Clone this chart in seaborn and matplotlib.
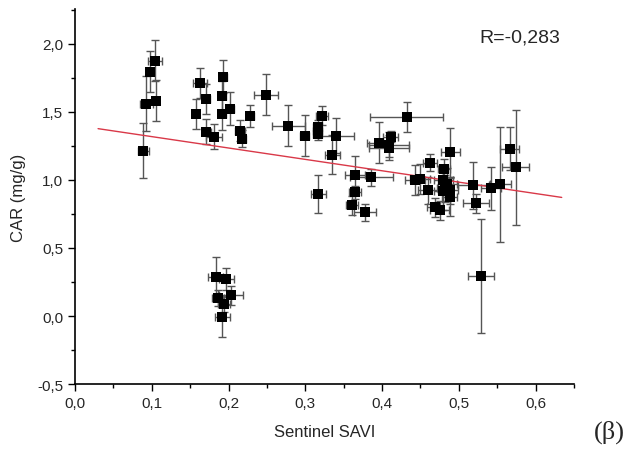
import numpy as np
import pandas as pd
import matplotlib
matplotlib.use("Agg")
import matplotlib.pyplot as plt
import seaborn as sns
from matplotlib.ticker import MultipleLocator, FuncFormatter

# ---- data ----
savi = [0.089, 0.093, 0.098, 0.104, 0.106, 0.157, 0.163, 0.171, 0.171, 0.181,
        0.193, 0.192, 0.192, 0.202, 0.215, 0.218, 0.228, 0.249, 0.278, 0.299,
        0.316, 0.316, 0.316, 0.322, 0.340, 0.335, 0.317, 0.365, 0.386, 0.365,
        0.361, 0.378, 0.432, 0.396, 0.411, 0.409, 0.409, 0.443, 0.450, 0.462,
        0.481, 0.489, 0.460, 0.480, 0.485, 0.482, 0.480, 0.489, 0.488, 0.469,
        0.475, 0.519, 0.522, 0.542, 0.554, 0.566, 0.574, 0.529, 0.183, 0.197,
        0.186, 0.203, 0.194, 0.192]
car = [1.215, 1.559, 1.794, 1.874, 1.581, 1.486, 1.713, 1.596, 1.354, 1.318,
       1.757, 1.618, 1.486, 1.523, 1.362, 1.303, 1.471, 1.625, 1.398, 1.325,
       1.391, 1.362, 1.340, 1.471, 1.325, 1.186, 0.893, 1.032, 1.018, 0.908,
       0.813, 0.761, 1.464, 1.274, 1.318, 1.259, 1.237, 0.996, 1.003, 1.127,
       1.083, 1.201, 0.922, 0.996, 0.966, 0.937, 0.915, 0.922, 0.871, 0.798,
       0.776, 0.959, 0.827, 0.937, 0.966, 1.230, 1.091, 0.293, 0.285, 0.271,
       0.132, 0.154, 0.088, -0.007]
car_err = [0.20, 0.20, 0.15, 0.15, 0.15, 0.11, 0.11, 0.11, 0.09, 0.09,
           0.12, 0.11, 0.12, 0.12, 0.08, 0.06, 0.08, 0.15, 0.15, 0.15,
           0.05, 0.05, 0.05, 0.07, 0.13, 0.14, 0.14, 0.14, 0.06, 0.05,
           0.07, 0.065, 0.11, 0.15, 0.04, 0.09, 0.09, 0.11, 0.11, 0.06,
           0.07, 0.18, 0.10, 0.10, 0.12, 0.10, 0.14, 0.10, 0.14, 0.07,
           0.07, 0.17, 0.07, 0.16, 0.42, 0.16, 0.42, 0.42, 0.15, 0.08,
           0.06, 0.07, 0.06, 0.15]
savi_err = [0.007, 0.008, 0.005, 0.009, 0.004, 0.004, 0.009, 0.005, 0.006, 0.010,
            0.005, 0.005, 0.005, 0.005, 0.006, 0.005, 0.005, 0.016, 0.021, 0.006,
            0.006, 0.006, 0.006, 0.008, 0.023, 0.010, 0.010, 0.013, 0.028, 0.008,
            0.008, 0.014, 0.048, 0.016, 0.010, 0.026, 0.026, 0.013, 0.013, 0.009,
            0.008, 0.012, 0.013, 0.012, 0.012, 0.010, 0.012, 0.010, 0.010, 0.010,
            0.012, 0.020, 0.017, 0.013, 0.014, 0.012, 0.018, 0.017, 0.010, 0.010,
            0.008, 0.016, 0.008, 0.010]

fit_x = [0.03, 0.634]
fit_intercept = 1.401
fit_slope = -0.836
r_text = "R=-0,283"

df = pd.DataFrame({"savi": savi, "car": car, "car_err": car_err, "savi_err": savi_err})
fit_df = pd.DataFrame({"x": fit_x})
fit_df["y"] = fit_intercept + fit_slope * fit_df["x"]

sns.set_style("ticks")
plt.rcParams["font.family"] = ["Liberation Sans", "DejaVu Sans"]

fig = plt.figure(figsize=(6.36, 4.52), dpi=100)
ax = fig.add_axes([0.118, 0.148, 0.7845, 0.83])

ax.errorbar(df["savi"], df["car"], yerr=df["car_err"], xerr=df["savi_err"],
            fmt="none", ecolor="#555555", elinewidth=1.0, capsize=3, capthick=1.0, zorder=2)
sns.lineplot(data=fit_df, x="x", y="y", color="#d93848", linewidth=1.0, ax=ax, zorder=3)
sns.scatterplot(data=df, x="savi", y="car", marker="s", color="black", s=42,
                edgecolor="black", linewidth=0, ax=ax, zorder=4)

ax.set_xlim(0, 0.65)
ax.set_ylim(-0.5, 2.255)
ax.xaxis.set_major_locator(MultipleLocator(0.1))
ax.xaxis.set_minor_locator(MultipleLocator(0.05))
ax.yaxis.set_major_locator(MultipleLocator(0.5))
ax.yaxis.set_minor_locator(MultipleLocator(0.25))
ax.xaxis.set_major_formatter(FuncFormatter(lambda v, p: f"{v:.1f}".replace(".", ",")))
ax.yaxis.set_major_formatter(FuncFormatter(lambda v, p: f"{v:.1f}".replace(".", ",")))
ax.tick_params(which="major", length=5, width=1, labelsize=11, direction="out", color="black")
ax.tick_params(which="minor", length=3, width=1, direction="out", color="black")
for s in ["top", "right"]:
    ax.spines[s].set_visible(False)
for s in ["left", "bottom"]:
    ax.spines[s].set_linewidth(1.2)
    ax.spines[s].set_color("black")

ax.set_xlabel("Sentinel SAVI", fontsize=12, labelpad=10)
ax.set_ylabel("CAR (mg/g)", fontsize=12, labelpad=8)
ax.text(0.579, 2.05, r_text, fontsize=14, ha="center", va="center")
fig.text(0.958, 0.043, "(β)", fontsize=19, family=["Liberation Serif", "DejaVu Serif"],
         ha="center", va="center")

fig.savefig("out.png", dpi=100)
